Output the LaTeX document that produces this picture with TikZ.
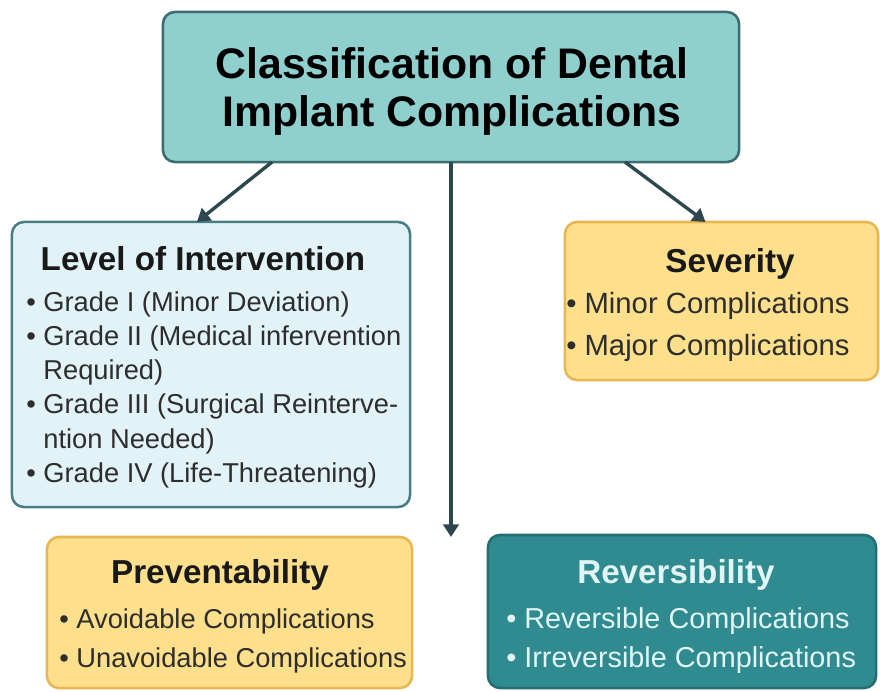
\documentclass[tikz,border=0pt]{standalone}
\usepackage{fontspec}
\setmainfont{Liberation Sans}
\usepackage{tikz}
\usetikzlibrary{calc, arrows.meta}

\definecolor{titlefill}{RGB}{143,207,206}
\definecolor{tealline}{RGB}{58,108,114}
\definecolor{levelfill}{RGB}{226,243,248}
\definecolor{levelline}{RGB}{72,126,133}
\definecolor{yellowfill}{RGB}{253,223,140}
\definecolor{yellowline}{RGB}{232,182,82}
\definecolor{revfill}{RGB}{47,139,143}
\definecolor{revline}{RGB}{36,110,115}
\definecolor{arrowcol}{RGB}{44,72,78}
\definecolor{bodytext}{RGB}{45,45,45}
\definecolor{revtext}{RGB}{226,245,245}

\newcommand{\itembul}{\textbullet\ }
\newcommand{\itemcont}{\hphantom{\textbullet\ }}

\tikzset{
    panel/.style={draw, rounded corners=0.3cm, line width=1.8pt, inner sep=0pt, outer sep=0pt},
    heading/.style={anchor=base, inner sep=0pt, text=black!90,
        font=\fontsize{23.6pt}{28pt}\selectfont\bfseries},
    item/.style={anchor=base west, inner sep=0pt, text=bodytext,
        font=\fontsize{19.4pt}{24pt}\selectfont},
    bigitem/.style={item, font=\fontsize{20.8pt}{25pt}\selectfont},
    link/.style={-{Triangle[length=9pt, width=11pt]}, line width=2.4pt, draw=arrowcol}
}

\begin{document}
\begin{tikzpicture}[x=0.025cm, y=-0.025cm]
    \useasboundingbox (0,0) rectangle (880,691);

    % Boxes
    \node[panel, fill=titlefill, draw=tealline,
        minimum width=14.4cm, minimum height=3.75cm] (title) at (451,87) {};
    \node[panel, fill=levelfill, draw=levelline,
        minimum width=9.95cm, minimum height=7.125cm] (lvl) at (211,364.5) {};
    \node[panel, fill=yellowfill, draw=yellowline,
        minimum width=7.825cm, minimum height=3.95cm] (sev) at (721.5,301) {};
    \node[panel, fill=yellowfill, draw=yellowline,
        minimum width=9.125cm, minimum height=3.775cm] (prev) at (229.5,612.5) {};
    \node[panel, fill=revfill, draw=revline,
        minimum width=9.7cm, minimum height=3.825cm] (rev) at (682,611.5) {};

    % Title
    \foreach \txt [count=\i] in {Classification of Dental, Implant Complications}
    {
        \node[anchor=base, inner sep=0pt, font=\fontsize{30.4pt}{36pt}\selectfont\bfseries]
            (title-\i) at (452, 30+48*\i) {\txt};
    }

    % Headings
    \node[heading] (lvl-head) at (203,270) {Level of Intervention};
    \node[heading] (sev-head) at (730,272) {Severity};
    \node[heading] (prev-head) at (220,583) {Preventability};
    \node[heading, text=revtext] (rev-head) at (676,583) {Reversibility};

    % Level of intervention items
    \foreach \txt [count=\i] in {
        {\itembul Grade I (Minor Deviation)},
        {\itembul Grade II (Medical infervention},
        {\itemcont Required)},
        {\itembul Grade III (Surgical Reinterve-},
        {\itemcont ntion Needed)},
        {\itembul Grade IV (Life-Threatening)}}
    {
        \node[item] (lvl-\i) at (26, 277+34.2*\i) {\txt};
    }

    % Severity items
    \foreach \txt [count=\i] in {Minor Complications, Major Complications}
    {
        \node[bigitem] (sev-\i) at (566, 271+42*\i) {\itembul\txt};
    }

    % Preventability items
    \foreach \txt [count=\i] in {Avoidable Complications, Unavoidable Complications}
    {
        \node[item] (prev-\i) at (59, 589+39*\i) {\itembul\txt};
    }

    % Reversibility items
    \foreach \txt [count=\i] in {Reversible Complications, Irreversible Complications}
    {
        \node[item, font=\fontsize{20.5pt}{25pt}\selectfont, text=revtext]
            (rev-\i) at (506, 589+39*\i) {\itembul\txt};
    }

    % Arrows
    \coordinate (drop) at (451,537);
    \draw[link] ($(title.south)+(-179,0)$) -- ($(lvl.north)+(-14,0)$);
    \draw[link] ($(title.south)+(174,0)$) -- ($(sev.north)+(-16,0)$);
    \draw[link] (title.south) -- (drop);
\end{tikzpicture}
\end{document}
